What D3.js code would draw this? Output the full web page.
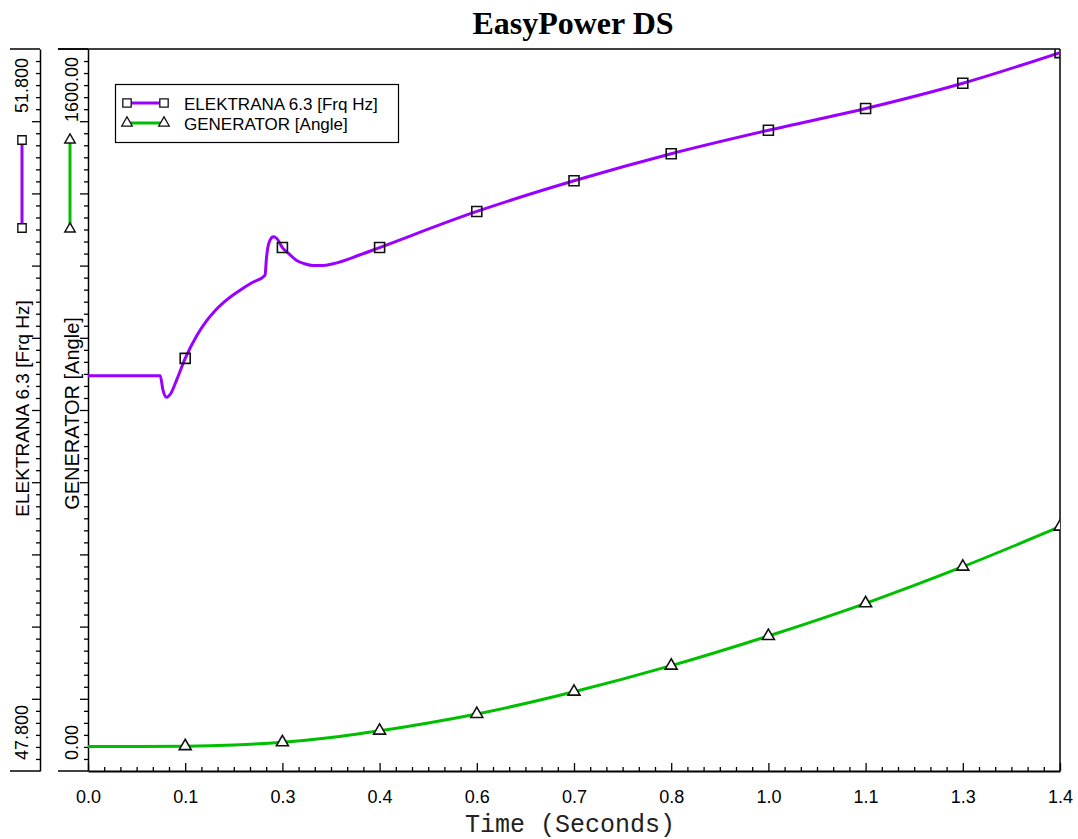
<!DOCTYPE html>
<html><head><meta charset="utf-8">
<script src="https://cdn.jsdelivr.net/npm/d3@7"></script>
<style>body{margin:0;background:#fff}svg{display:block}</style>
</head><body><svg id="c" width="1078" height="839"></svg>
<script>
// ---------- data ----------
const chartTitle = "EasyPower DS";
const xTitle = "Time (Seconds)";
const freqName = "ELEKTRANA 6.3 [Frq Hz]";
const angleName = "GENERATOR [Angle]";
const xTickLabels = ["0.0","0.1","0.3","0.4","0.6","0.7","0.8","1.0","1.1","1.3","1.4"];
const freqEndLabels = ["47.800","51.800"];
const angleEndLabels = ["0.00","1600.00"];
const freqDomain = [47.8, 51.8];
const angleDomain = [0, 1600];
const timeDomain = [0, 1.4];

const freqTime = [0.000,0.104,0.108,0.113,0.119,0.128,0.140,0.157,0.171,0.183,0.195,0.207,0.219,0.236,0.255,0.257,0.259,0.262,0.267,0.272,0.280,0.291,0.300,0.312,0.325,0.338,0.353,0.392,0.420,0.560,0.700,0.840,0.980,1.120,1.260,1.400];
const freqValues = [49.99,49.99,49.91,49.87,49.89,49.97,50.086,50.214,50.295,50.350,50.395,50.432,50.464,50.505,50.547,50.64,50.70,50.74,50.76,50.75,50.70,50.66,50.63,50.61,50.60,50.60,50.61,50.66,50.70,50.90,51.07,51.22,51.35,51.47,51.61,51.78];

const angleTime = [0.000,0.070,0.140,0.210,0.280,0.350,0.420,0.490,0.560,0.700,0.840,0.980,1.120,1.260,1.400];
const angleValues = [54.5,54.5,55,57.6,63.6,74.2,89.3,106.4,126.3,175.7,233.4,299.2,371.6,452.7,541.4];

const markerTimes = [0.14,0.28,0.42,0.56,0.70,0.84,0.98,1.12,1.26,1.40];

// ---------- layout ----------
const PL = 88, PR = 1060, PT = 49, PB = 771;
const AX1 = 40; // freq axis x
const purple = "#9900ff", green = "#00bf00";
const sans = "'Liberation Sans', Arial, sans-serif";

const svg = d3.select("#c");
const x = d3.scaleLinear().domain(timeDomain).range([PL, PR]);
const yF = d3.scaleLinear().domain(freqDomain).range([PB, PT]);
const yA = d3.scaleLinear().domain(angleDomain).range([PB, PT]);

// title
svg.append("text").attr("x", 573).attr("y", 34).attr("text-anchor", "middle")
  .attr("font-family", "'Liberation Serif', 'Times New Roman', serif").attr("font-weight", "bold")
  .attr("font-size", 32).text(chartTitle);

// frame top & right
svg.append("line").attr("x1", PL - 30).attr("x2", PR).attr("y1", PT).attr("y2", PT).attr("stroke", "#000").attr("stroke-width", 1.5);
svg.append("line").attr("x1", PR).attr("x2", PR).attr("y1", PT).attr("y2", PB).attr("stroke", "#000").attr("stroke-width", 1.5);

// y axes
function yAxis(scale, ax, dom) {
  const step = (dom[1] - dom[0]) / 10;
  const major = d3.range(1, 10).map(i => dom[0] + step * i);
  const minor = d3.range(1, 60).filter(i => i % 6 !== 0).map(i => dom[0] + step / 6 * i);
  const g = svg.append("g").attr("transform", `translate(${ax},0)`);
  g.call(d3.axisLeft(scale).tickValues(major).tickSize(8).tickSizeOuter(0).tickFormat(""));
  const g2 = svg.append("g").attr("transform", `translate(${ax},0)`);
  g2.call(d3.axisLeft(scale).tickValues(minor).tickSize(4).tickSizeOuter(0).tickFormat(""));
  g2.select(".domain").remove();
  [g, g2].forEach(s => { s.selectAll("line").attr("stroke-width", 1.3); });
  g.select(".domain").attr("stroke-width", 1.5);
  [dom[0], dom[1]].forEach(v => {
    svg.append("line").attr("x1", ax - 30).attr("x2", ax).attr("y1", scale(v)).attr("y2", scale(v))
      .attr("stroke", "#000").attr("stroke-width", 1.5);
  });
}
yAxis(yF, AX1, freqDomain);
yAxis(yA, PL, angleDomain);

function rotText(tx, ty, anchor, size, str) {
  svg.append("text").attr("transform", `translate(${tx},${ty}) rotate(-90)`)
    .attr("text-anchor", anchor).attr("font-family", sans).attr("font-size", size).text(str);
}
rotText(28, yF(freqDomain[1]) + 9, "end", 18, freqEndLabels[1]);
rotText(28, yF(freqDomain[0]) - 11, "start", 18, freqEndLabels[0]);
rotText(78, yA(angleDomain[1]) + 8, "end", 18, angleEndLabels[1]);
rotText(78, yA(angleDomain[0]) - 11, "start", 18, angleEndLabels[0]);
rotText(28.5, 408.5, "middle", 19, freqName);
rotText(79, 413.5, "middle", 20, angleName);

// x axis
const xStep = (timeDomain[1] - timeDomain[0]) / 10;
const xMajor = d3.range(0, 11).map(i => timeDomain[0] + xStep * i);
const xMinor = d3.range(1, 60).filter(i => i % 6 !== 0).map(i => timeDomain[0] + xStep / 6 * i);
const gx = svg.append("g").attr("transform", `translate(0,${PB})`)
  .call(d3.axisBottom(x).tickValues(xMajor).tickSize(-8).tickSizeOuter(0).tickPadding(19)
    .tickFormat((d, i) => xTickLabels[i]));
gx.selectAll("text").attr("font-family", sans).attr("font-size", 18).attr("fill", "#000");
gx.selectAll("line").attr("stroke-width", 1.3);
gx.select(".domain").attr("stroke-width", 2.2);
const gx2 = svg.append("g").attr("transform", `translate(0,${PB})`)
  .call(d3.axisBottom(x).tickValues(xMinor).tickSize(-4).tickSizeOuter(0).tickFormat(""));
gx2.select(".domain").remove();
gx2.selectAll("line").attr("stroke-width", 1.3);

svg.append("text").attr("x", 570).attr("y", 832).attr("text-anchor", "middle")
  .attr("font-family", "'Liberation Mono', 'Courier New', monospace").attr("font-size", 25)
  .attr("fill", "#222").text(xTitle);

// clip
svg.append("clipPath").attr("id", "clip").append("rect")
  .attr("x", PL).attr("y", PT).attr("width", PR - PL).attr("height", PB - PT);
const plot = svg.append("g").attr("clip-path", "url(#clip)");

const freqData = freqTime.map((t, i) => ({t, v: freqValues[i]}));
const angleData = angleTime.map((t, i) => ({t, v: angleValues[i]}));
const isMarker = d => markerTimes.some(m => Math.abs(m - d.t) < 1e-6);

plot.append("path").datum(angleData).attr("fill", "none").attr("stroke", green).attr("stroke-width", 3)
  .attr("d", d3.line().x(d => x(d.t)).y(d => yA(d.v)).curve(d3.curveMonotoneX));
plot.append("path").datum(freqData).attr("fill", "none").attr("stroke", purple).attr("stroke-width", 3)
  .attr("d", d3.line().x(d => x(d.t)).y(d => yF(d.v)).curve(d3.curveMonotoneX));

const sq = d3.symbol(d3.symbolSquare, 100);
const tri = d3.symbol(d3.symbolTriangle, 62);
plot.selectAll(".ms").data(freqData.filter(isMarker)).join("path")
  .attr("transform", d => `translate(${x(d.t)},${yF(d.v)})`).attr("d", sq)
  .attr("fill", "none").attr("stroke", "#111").attr("stroke-width", 1.6);
plot.selectAll(".mt").data(angleData.filter(isMarker)).join("path")
  .attr("transform", d => `translate(${x(d.t)},${yA(d.v)})`).attr("d", tri)
  .attr("fill", "#fff").attr("stroke", "#111").attr("stroke-width", 1.6);

// left-margin series keys
const sqS = d3.symbol(d3.symbolSquare, 70);
const triS = d3.symbol(d3.symbolTriangle, 48);
function keyV(xx, y1, y2, color, sym) {
  svg.append("line").attr("x1", xx).attr("x2", xx).attr("y1", y1).attr("y2", y2)
    .attr("stroke", color).attr("stroke-width", 3);
  [y1, y2].forEach(yy => svg.append("path").attr("transform", `translate(${xx},${yy})`).attr("d", sym)
    .attr("fill", "#fff").attr("stroke", "#111").attr("stroke-width", 1.4));
}
keyV(22, 140, 228, purple, sqS);
keyV(70, 140, 229, green, triS);

// legend
const lg = svg.append("g");
lg.append("rect").attr("x", 115.5).attr("y", 84.5).attr("width", 283).attr("height", 58)
  .attr("fill", "#fff").attr("stroke", "#000").attr("stroke-width", 1.2);
const legendItems = [{name: freqName, color: purple, sym: sqS, y: 103}, {name: angleName, color: green, sym: triS, y: 123}];
legendItems.forEach(it => {
  lg.append("line").attr("x1", 127).attr("x2", 164).attr("y1", it.y).attr("y2", it.y)
    .attr("stroke", it.color).attr("stroke-width", 3);
  [127, 164].forEach(xx => lg.append("path").attr("transform", `translate(${xx},${it.y})`).attr("d", it.sym)
    .attr("fill", "#fff").attr("stroke", "#111").attr("stroke-width", 1.3));
  lg.append("text").attr("x", 184).attr("y", it.y + 7).attr("font-family", sans).attr("font-size", 17)
    .text(it.name);
});
</script></body></html>
